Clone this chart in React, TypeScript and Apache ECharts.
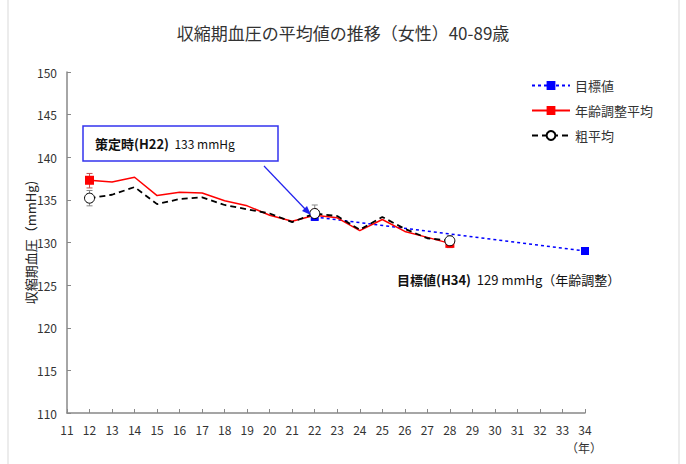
import React, { useEffect, useRef } from "react";
import * as echarts from "echarts";

const years = [12, 13, 14, 15, 16, 17, 18, 19, 20, 21, 22, 23, 24, 25, 26, 27, 28];
const ageAdjusted = [137.3, 137.1, 137.65, 135.5, 135.9, 135.8, 134.9, 134.3, 133.2, 132.5, 133.2, 132.9, 131.4, 132.7, 131.3, 130.6, 129.9];
const crude = [135.2, 135.6, 136.5, 134.5, 135.1, 135.3, 134.4, 133.9, 133.4, 132.4, 133.4, 133.1, 131.5, 133.0, 131.6, 130.5, 130.2];
const targetYears = [22, 34];
const targetValues = [133, 129];
const redErr = [
  [12, 136.4, 138.1],
  [22, 132.6, 133.9],
  [28, 129.4, 130.4],
];
const blackErr = [
  [12, 134.3, 136.1],
  [22, 132.6, 134.4],
  [28, 129.6, 130.8],
];

const FONT = "'Noto Sans CJK JP', 'Noto Sans', sans-serif";

function errSeries(name: string, data: number[][], color: string) {
  return {
    name,
    type: "custom",
    z: 1,
    data,
    renderItem: (params: any, api: any) => {
      const x = api.value(0);
      const lo = api.coord([x, api.value(1)]);
      const hi = api.coord([x, api.value(2)]);
      const w = 3;
      const style = { stroke: color, lineWidth: 1 };
      return {
        type: "group",
        children: [
          { type: "line", shape: { x1: lo[0], y1: lo[1], x2: hi[0], y2: hi[1] }, style },
          { type: "line", shape: { x1: lo[0] - w, y1: lo[1], x2: lo[0] + w, y2: lo[1] }, style },
          { type: "line", shape: { x1: hi[0] - w, y1: hi[1], x2: hi[0] + w, y2: hi[1] }, style },
        ],
      };
    },
  };
}

export default function App() {
  const ref = useRef<HTMLDivElement>(null);
  useEffect(() => {
    document.body.style.margin = "0";
    const chart = echarts.init(ref.current!, null, { renderer: "svg" });
    chart.setOption({
      animation: false,
      backgroundColor: "#fff",
      textStyle: { fontFamily: FONT },
      title: {
        text: "収縮期血圧の平均値の推移（女性）40-89歳",
        left: "center",
        top: 19,
        textStyle: { fontSize: 17, fontWeight: "normal", color: "#333", fontFamily: FONT },
      },
      legend: {
        orient: "vertical",
        left: 526,
        top: 74,
        itemWidth: 38,
        itemHeight: 11,
        itemGap: 12,
        data: ["目標値", "年齢調整平均", "粗平均"],
        textStyle: { fontSize: 13, color: "#333", fontFamily: FONT },
      },
      grid: { left: 67, right: 101, top: 72, bottom: 51 },
      xAxis: {
        type: "value",
        min: 11,
        max: 34,
        interval: 1,
        axisLine: { lineStyle: { color: "#888", width: 1.5 } },
        axisTick: { inside: true, length: 4, lineStyle: { color: "#888" } },
        axisLabel: { color: "#333", fontSize: 12, margin: 10, fontFamily: FONT },
        splitLine: { show: false },
      },
      yAxis: {
        type: "value",
        min: 110,
        max: 150,
        interval: 5,
        name: "収縮期血圧（mmHg)",
        nameLocation: "middle",
        nameGap: 30,
        nameMoveOverlap: false,
        nameTextStyle: { fontSize: 13, color: "#222", fontFamily: FONT },
        axisLine: { show: true, lineStyle: { color: "#888", width: 1.5 } },
        axisTick: { show: true, inside: true, length: 4, lineStyle: { color: "#888" } },
        axisLabel: { color: "#333", fontSize: 12, margin: 10, fontFamily: FONT },
        splitLine: { show: false },
      },
      series: [
        errSeries("redErr", redErr, "#c0504d"),
        errSeries("blackErr", blackErr, "#888"),
        {
          name: "目標値",
          type: "line",
          z: 3,
          data: targetYears.map((y, i) => [y, targetValues[i]]),
          symbol: "rect",
          symbolSize: 8,
          itemStyle: { color: "#0000ff" },
          lineStyle: { color: "#0000ff", width: 1.5, type: [3, 3] },
        },
        {
          name: "年齢調整平均",
          type: "line",
          z: 4,
          data: years.map((y, i) => [y, ageAdjusted[i]]),
          symbol: "rect",
          symbolSize: (v: any) => ([12, 28].includes(v[0]) ? 9 : 0),
          showAllSymbol: true,
          itemStyle: { color: "#ff0000" },
          lineStyle: { color: "#ff0000", width: 1.5 },
        },
        {
          name: "粗平均",
          type: "line",
          z: 5,
          data: years.map((y, i) => [y, crude[i]]),
          symbol: "circle",
          symbolSize: (v: any) => ([12, 22, 28].includes(v[0]) ? 10 : 0),
          showAllSymbol: true,
          itemStyle: { color: "#fff", borderColor: "#000", borderWidth: 1 },
          lineStyle: { color: "#000", width: 1.8, type: [6, 4] },
        },
      ],
      graphic: [
        {
          type: "rect",
          shape: { x: 8, y: -2, width: 671, height: 470 },
          style: { fill: "none", stroke: "#d9d9d9", lineWidth: 1 },
          silent: true,
        },
        {
          type: "rect",
          shape: { x: 83, y: 126, width: 195, height: 35 },
          style: { fill: "#fff", stroke: "#3333ee", lineWidth: 1.5 },
          z: 10,
        },
        {
          type: "text",
          x: 95,
          y: 143,
          z: 11,
          style: {
            text: "{b|策定時(H22)}{n|  133 mmHg}",
            verticalAlign: "middle",
            rich: {
              b: { fontSize: 13, fontWeight: "bold", fill: "#111", fontFamily: FONT },
              n: { fontSize: 12, fill: "#111", fontFamily: FONT },
            },
          },
        },
        {
          type: "line",
          z: 10,
          shape: { x1: 264, y1: 166, x2: 307, y2: 211 },
          style: { stroke: "#2222ee", lineWidth: 1.2 },
        },
        {
          type: "polygon",
          z: 10,
          shape: { points: [[311, 215], [302, 211], [307, 206]] },
          style: { fill: "#2222ee" },
        },
        {
          type: "text",
          x: 397,
          y: 279,
          z: 11,
          style: {
            text: "{b|目標値(H34)}{n|  129 mmHg（年齢調整）}",
            verticalAlign: "middle",
            rich: {
              b: { fontSize: 13, fontWeight: "bold", fill: "#111", fontFamily: FONT },
              n: { fontSize: 13, fill: "#111", fontFamily: FONT },
            },
          },
        },
        {
          type: "text",
          x: 566,
          y: 447,
          style: { text: "（年）", fontSize: 12, fill: "#333", fontFamily: FONT, verticalAlign: "middle" },
        },
      ],
    });
    return () => chart.dispose();
  }, []);
  return <div ref={ref} style={{ width: 686, height: 464 }} />;
}
